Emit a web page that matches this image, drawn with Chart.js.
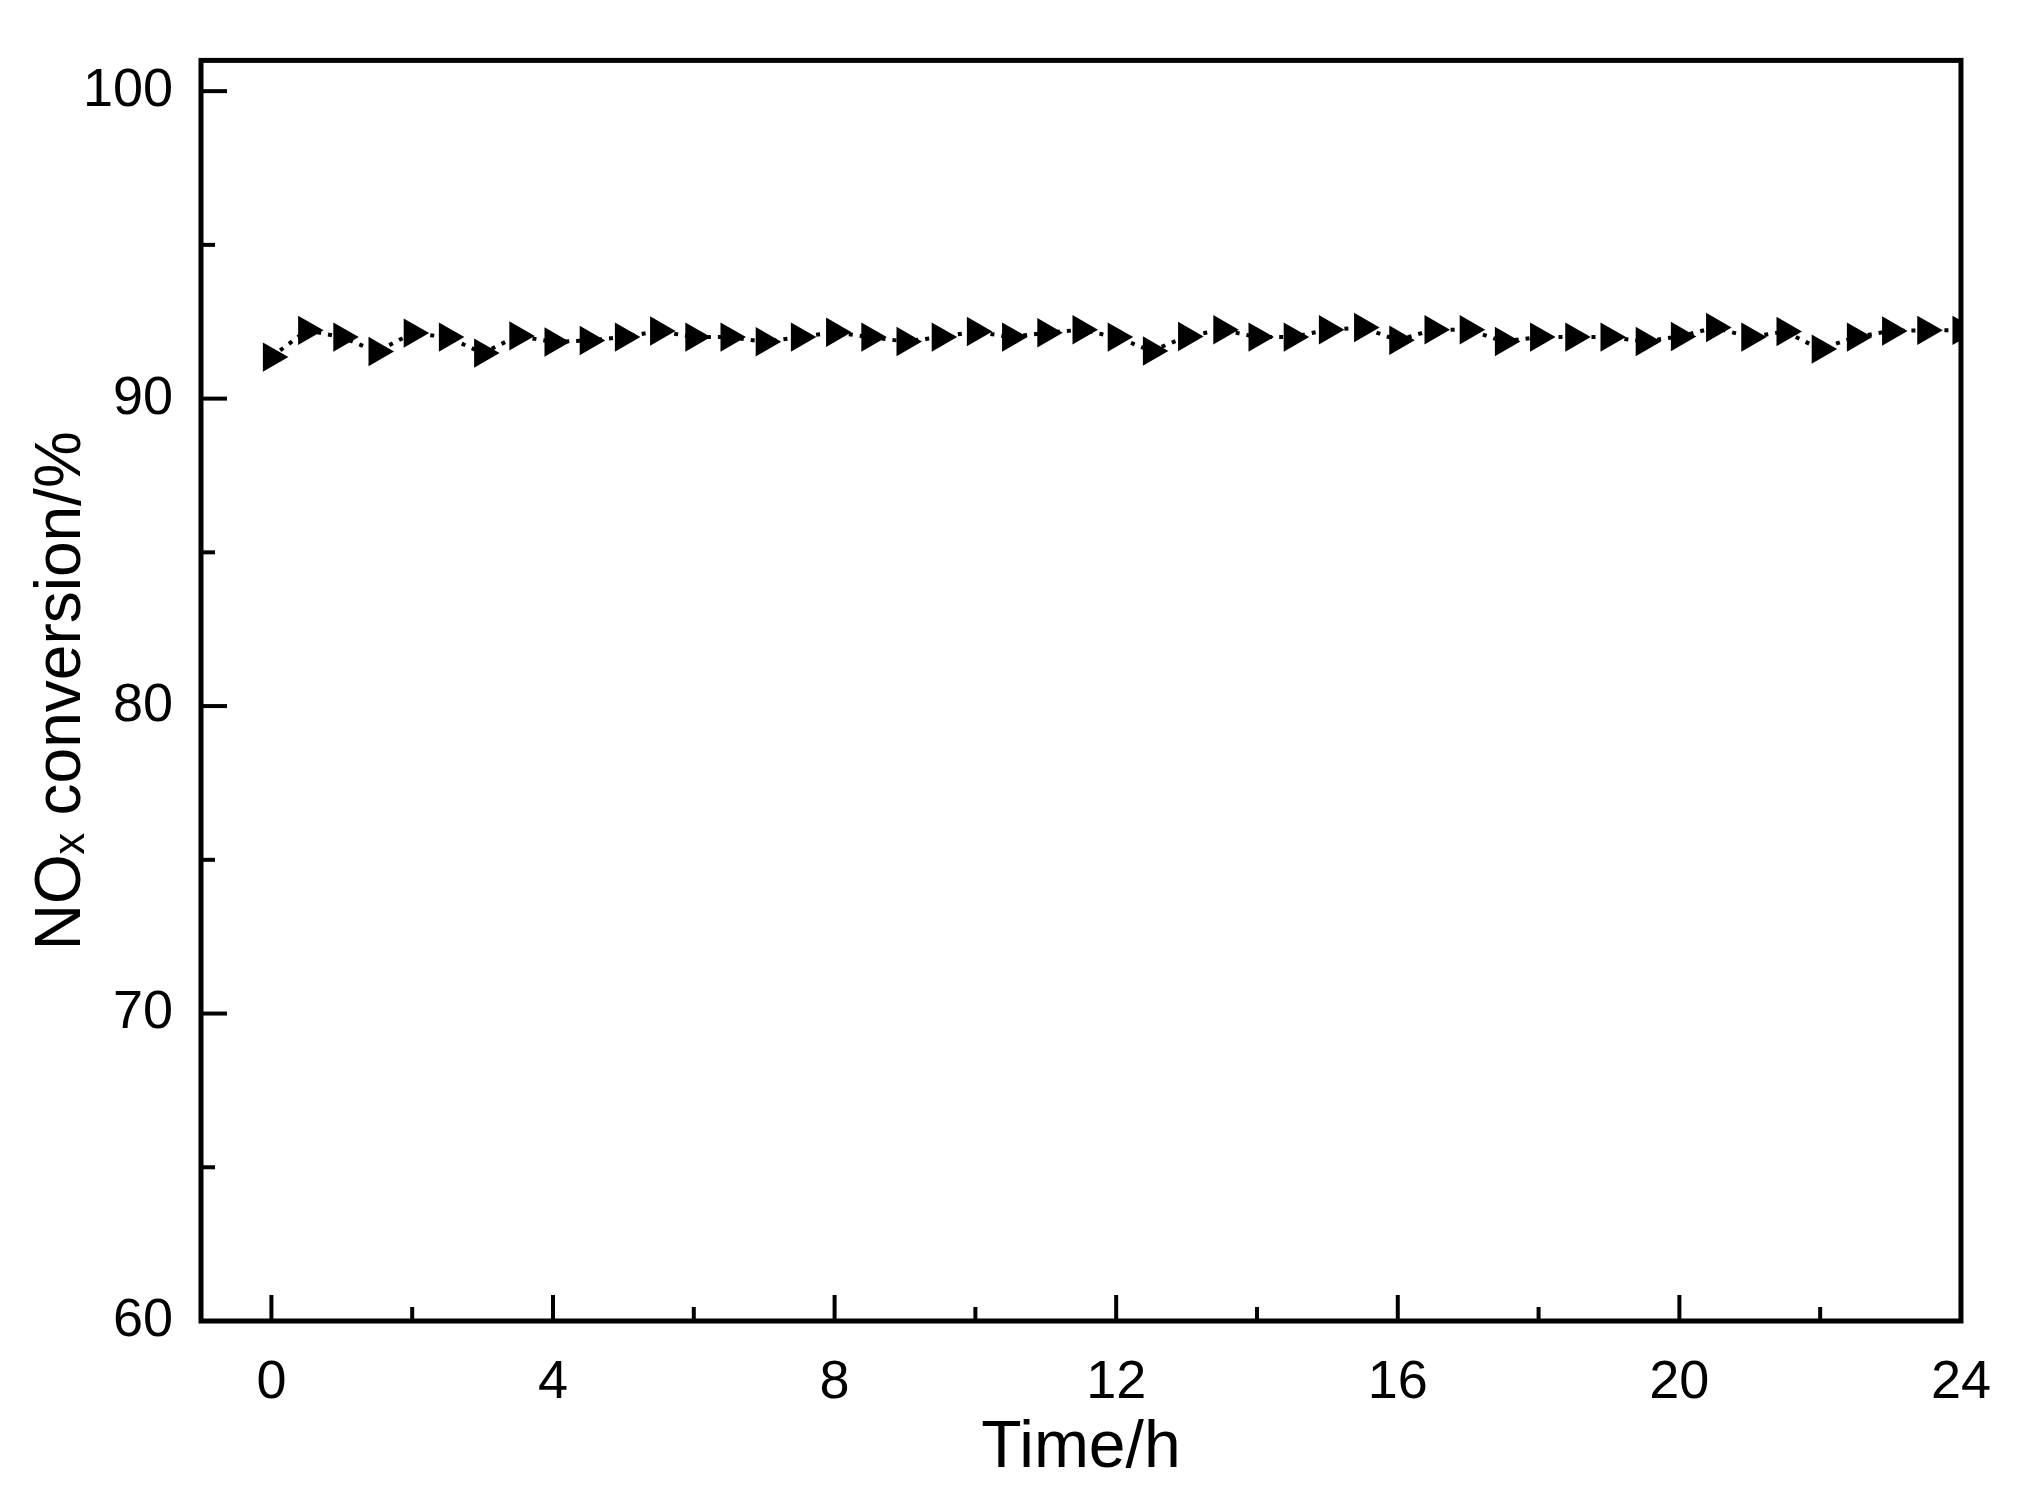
<!DOCTYPE html>
<html><head><meta charset="utf-8">
<script src="https://cdn.jsdelivr.net/npm/chart.js@4/dist/chart.umd.min.js"></script>
<style>html,body{margin:0;padding:0;background:#fff}#wrap{width:2021px;height:1492px}</style>
</head><body><div id="wrap"><canvas id="c"></canvas></div>
<script>
const times = [0,0.5,1,1.5,2,2.5,3,3.5,4,4.5,5,5.5,6,6.5,7,7.5,8,8.5,9,9.5,10,10.5,11,11.5,12,12.5,13,13.5,14,14.5,15,15.5,16,16.5,17,17.5,18,18.5,19,19.5,20,20.5,21,21.5,22,22.5,23,23.5,24];
const conversion = [91.35,92.22,92.0,91.53,92.13,92.0,91.48,92.04,91.84,91.89,92.0,92.2,92.0,92.0,91.85,92.0,92.16,92.0,91.86,92.0,92.18,92.0,92.14,92.24,92.0,91.55,92.02,92.24,92.0,92.0,92.24,92.31,91.9,92.24,92.24,91.86,92.0,92.0,92.0,91.86,92.02,92.31,92.0,92.18,91.61,92.0,92.2,92.22,92.22];
const xTicks = [0,2,4,6,8,10,12,14,16,18,20,22,24];
const yTicks = [60,65,70,75,80,85,90,95,100];
const xLabelStep = 4, yLabelStep = 10;

const font = 'Liberation Sans, Arial, sans-serif';
const innerTicks = {
  id:'innerTicks',
  afterDraw(ch){
    const c=ch.ctx, a=ch.chartArea, x=ch.scales.x, y=ch.scales.y;
    c.save(); c.strokeStyle='#000'; c.lineWidth=4;
    xTicks.forEach(v=>{const p=x.getPixelForValue(v), L=(v%xLabelStep===0)?26:14;
      c.beginPath(); c.moveTo(p,a.bottom); c.lineTo(p,a.bottom-L); c.stroke();});
    yTicks.forEach(v=>{const p=y.getPixelForValue(v), L=(v%yLabelStep===0)?26:14;
      c.beginPath(); c.moveTo(a.left,p); c.lineTo(a.left+L,p); c.stroke();});
    c.lineWidth=5;
    c.strokeRect(a.left,a.top,a.right-a.left,a.bottom-a.top);
    c.restore();
  }
};
new Chart(document.getElementById('c'),{
  type:'line',
  data:{datasets:[{data:times.map((t,i)=>({x:t,y:conversion[i]})),
    borderColor:'#000',borderWidth:4,borderDash:[4,7],backgroundColor:'#000',
    pointStyle:'triangle',rotation:90,pointRadius:17,pointBorderWidth:0,pointBackgroundColor:'#000',tension:0}]},
  options:{responsive:true,maintainAspectRatio:false,animation:false,
    layout:{padding:{top:28,right:55,left:0,bottom:0}},
    plugins:{legend:{display:false},tooltip:{enabled:false}},
    scales:{
      x:{type:'linear',min:-1,max:24,
        afterBuildTicks:s=>{s.ticks=xTicks.map(v=>({value:v}));},
        afterFit:s=>{s.height=171;},
        grid:{display:false,drawTicks:false},border:{display:false},
        ticks:{padding:30,color:'#000',font:{family:font,size:54},maxRotation:0,autoSkip:false,
          callback:v=>v%xLabelStep===0?String(v):''},
        title:{display:true,text:'Time/h',color:'#000',font:{family:font,size:66},padding:{top:0}}},
      y:{min:60,max:101,
        afterBuildTicks:s=>{s.ticks=yTicks.map(v=>({value:v}));},
        afterFit:s=>{s.width=201;},
        grid:{display:false,drawTicks:false},border:{display:false},
        ticks:{padding:28,color:'#000',font:{family:font,size:54},autoSkip:false,
          callback:v=>v%yLabelStep===0?String(v):''},
        title:{display:true,text:'NOₓ conversion/%',color:'#000',font:{family:font,size:64},padding:{bottom:0,top:24}}}
    }},
  plugins:[innerTicks]
});
</script></body></html>
